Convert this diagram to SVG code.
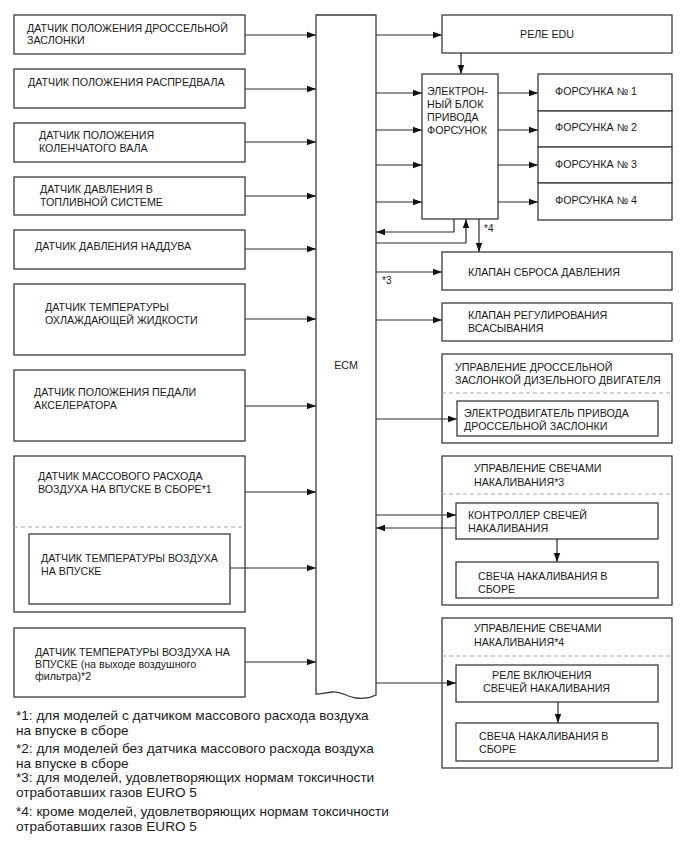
<svg xmlns="http://www.w3.org/2000/svg" width="690" height="855" viewBox="0 0 690 855">
<style>
.b{fill:#fff;stroke:#3a3a3a;stroke-width:1.3}
.o{fill:none;stroke:#3a3a3a;stroke-width:1.3}
.c{fill:none;stroke:#2a2a2a;stroke-width:1.2}
.a{marker-end:url(#ah)}
.d{fill:none;stroke:#aaa;stroke-width:1.2;stroke-dasharray:4 3}
text{font-family:"Liberation Sans",Arial,sans-serif;font-size:10.7px;fill:#1a1a1a}
.f{font-size:13.6px}
.s{font-size:10px}
</style>
<defs>
<marker id="ah" markerUnits="userSpaceOnUse" markerWidth="10" markerHeight="8" refX="9" refY="4" orient="auto">
<path d="M0,0.8 L9,4 L0,7.2 z" fill="#111"/>
</marker>
</defs>
<rect width="690" height="855" fill="#fff"/>

<g id="ecm">
<path class="b" d="M316,15 H376 V695 C368,699 362,699 356,698 C348,697 340,691 332,692 C324,693 320,694 316,694 Z"/>
<text x="346" y="369" text-anchor="middle">ECM</text>
</g>

<g id="s1"><rect class="b" x="14" y="15" width="231" height="39"/>
<text x="27" y="31.5">ДАТЧИК ПОЛОЖЕНИЯ ДРОССЕЛЬНОЙ</text><text x="27" y="44">ЗАСЛОНКИ</text></g>
<g id="s2"><rect class="b" x="14" y="69" width="231" height="39"/>
<text x="28" y="86">ДАТЧИК ПОЛОЖЕНИЯ РАСПРЕДВАЛА</text></g>
<g id="s3"><rect class="b" x="14" y="123" width="231" height="39"/>
<text x="39" y="139">ДАТЧИК ПОЛОЖЕНИЯ</text><text x="39" y="151.5">КОЛЕНЧАТОГО ВАЛА</text></g>
<g id="s4"><rect class="b" x="14" y="177" width="231" height="38"/>
<text x="40" y="193">ДАТЧИК ДАВЛЕНИЯ В</text><text x="40" y="205.5">ТОПЛИВНОЙ СИСТЕМЕ</text></g>
<g id="s5"><rect class="b" x="14" y="230" width="231" height="39"/>
<text x="35" y="250">ДАТЧИК ДАВЛЕНИЯ НАДДУВА</text></g>
<g id="s6"><rect class="b" x="14" y="284" width="231" height="71"/>
<text x="45" y="311">ДАТЧИК ТЕМПЕРАТУРЫ</text><text x="45" y="323.5">ОХЛАЖДАЮЩЕЙ ЖИДКОСТИ</text></g>
<g id="s7"><rect class="b" x="14" y="370" width="231" height="71"/>
<text x="34" y="396">ДАТЧИК ПОЛОЖЕНИЯ ПЕДАЛИ</text><text x="34" y="408.5">АКСЕЛЕРАТОРА</text></g>
<g id="s8"><rect class="b" x="14" y="456" width="231" height="156"/>
<text x="38" y="480">ДАТЧИК МАССОВОГО РАСХОДА</text><text x="38" y="493">ВОЗДУХА НА ВПУСКЕ В СБОРЕ*1</text>
<line class="d" x1="14" y1="527" x2="245" y2="527"/>
<g id="s8i"><rect class="b" x="29" y="534" width="201" height="70"/>
<text x="41" y="562">ДАТЧИК ТЕМПЕРАТУРЫ ВОЗДУХА</text><text x="41" y="574.5">НА ВПУСКЕ</text></g></g>
<g id="s9"><rect class="b" x="14" y="628" width="231" height="69"/>
<text x="35" y="656">ДАТЧИК ТЕМПЕРАТУРЫ ВОЗДУХА НА</text><text x="35" y="668">ВПУСКЕ (на выходе воздушного</text><text x="35" y="680">фильтра)*2</text></g>

<g id="edurelay"><rect class="b" x="442" y="15" width="230" height="38"/>
<text x="547" y="38" text-anchor="middle">РЕЛЕ EDU</text></g>
<g id="edu"><rect class="b" x="422" y="74" width="76" height="145"/>
<text x="427" y="95">ЭЛЕКТРОН-</text><text x="427" y="108">НЫЙ БЛОК</text><text x="427" y="121">ПРИВОДА</text><text x="427" y="133.5">ФОРСУНОК</text></g>
<g id="inj1"><rect class="b" x="538" y="74" width="134" height="37"/><text x="555" y="95">ФОРСУНКА № 1</text></g>
<g id="inj2"><rect class="b" x="538" y="111" width="134" height="36"/><text x="555" y="131">ФОРСУНКА № 2</text></g>
<g id="inj3"><rect class="b" x="538" y="147" width="134" height="36"/><text x="555" y="168">ФОРСУНКА № 3</text></g>
<g id="inj4"><rect class="b" x="538" y="183" width="134" height="37"/><text x="555" y="204">ФОРСУНКА № 4</text></g>
<g id="relief"><rect class="b" x="442" y="252" width="230" height="38"/>
<text x="468" y="276">КЛАПАН СБРОСА ДАВЛЕНИЯ</text></g>
<g id="scv"><rect class="b" x="442" y="303" width="230" height="38"/>
<text x="468" y="319">КЛАПАН РЕГУЛИРОВАНИЯ</text><text x="468" y="331.5">ВСАСЫВАНИЯ</text></g>
<g id="throttle"><rect class="b" x="442" y="354" width="230" height="89"/>
<text x="455" y="371">УПРАВЛЕНИЕ ДРОССЕЛЬНОЙ</text><text x="455" y="383.5">ЗАСЛОНКОЙ ДИЗЕЛЬНОГО ДВИГАТЕЛЯ</text>
<line class="d" x1="442" y1="393" x2="672" y2="393"/>
<g id="motor"><rect class="b" x="457" y="401" width="201" height="35"/>
<text x="464" y="417">ЭЛЕКТРОДВИГАТЕЛЬ ПРИВОДА</text><text x="464" y="429.5">ДРОССЕЛЬНОЙ ЗАСЛОНКИ</text></g></g>
<g id="glow3"><rect class="b" x="442" y="456" width="230" height="149"/>
<text x="474" y="472">УПРАВЛЕНИЕ СВЕЧАМИ</text><text x="474" y="485.5">НАКАЛИВАНИЯ*3</text>
<line class="d" x1="442" y1="494" x2="672" y2="494"/>
<g id="gcu"><rect class="b" x="456" y="503" width="202" height="36"/>
<text x="468" y="519">КОНТРОЛЛЕР СВЕЧЕЙ</text><text x="468" y="532">НАКАЛИВАНИЯ</text></g>
<g id="plug3"><rect class="b" x="456" y="562" width="202" height="36"/>
<text x="478" y="580">СВЕЧА НАКАЛИВАНИЯ В</text><text x="478" y="592.5">СБОРЕ</text></g></g>
<g id="glow4"><rect class="b" x="442" y="618" width="230" height="150"/>
<text x="474" y="632">УПРАВЛЕНИЕ СВЕЧАМИ</text><text x="474" y="645.5">НАКАЛИВАНИЯ*4</text>
<line class="d" x1="442" y1="656" x2="672" y2="656"/>
<g id="grelay"><rect class="b" x="456" y="665" width="202" height="37"/>
<text x="492" y="679">РЕЛЕ ВКЛЮЧЕНИЯ</text><text x="483" y="692">СВЕЧЕЙ НАКАЛИВАНИЯ</text></g>
<g id="plug4"><rect class="b" x="456" y="723" width="202" height="38"/>
<text x="479" y="740">СВЕЧА НАКАЛИВАНИЯ В</text><text x="479" y="753">СБОРЕ</text></g></g>

<g id="connectors">
<line class="c a" x1="245" y1="35" x2="316" y2="35"/>
<line class="c a" x1="245" y1="89" x2="316" y2="89"/>
<line class="c a" x1="245" y1="142" x2="316" y2="142"/>
<line class="c a" x1="245" y1="196" x2="316" y2="196"/>
<line class="c a" x1="245" y1="249" x2="316" y2="249"/>
<line class="c a" x1="245" y1="319" x2="316" y2="319"/>
<line class="c a" x1="245" y1="406" x2="316" y2="406"/>
<line class="c a" x1="245" y1="492" x2="316" y2="492"/>
<line class="c a" x1="230" y1="568" x2="316" y2="568"/>
<line class="c a" x1="245" y1="662" x2="316" y2="662"/>
<line class="c a" x1="376" y1="35" x2="442" y2="35"/>
<line class="c a" x1="461" y1="53" x2="461" y2="74"/>
<line class="c a" x1="376" y1="93" x2="422" y2="93"/>
<line class="c a" x1="376" y1="130" x2="422" y2="130"/>
<line class="c a" x1="376" y1="165" x2="422" y2="165"/>
<line class="c a" x1="376" y1="202" x2="422" y2="202"/>
<line class="c a" x1="498" y1="93" x2="538" y2="93"/>
<line class="c a" x1="498" y1="130" x2="538" y2="130"/>
<line class="c a" x1="498" y1="165" x2="538" y2="165"/>
<line class="c a" x1="498" y1="202" x2="538" y2="202"/>
<polyline class="c a" points="454,219 454,232 376,232"/>
<polyline class="c a" points="376,243 466,243 466,219"/>
<line class="c a" x1="479" y1="219" x2="479" y2="252"/>
<text class="s" x="484" y="232">*4</text>
<line class="c a" x1="376" y1="272" x2="442" y2="272"/>
<text class="s" x="382" y="284">*3</text>
<line class="c a" x1="376" y1="320" x2="442" y2="320"/>
<line class="c a" x1="376" y1="419" x2="457" y2="419"/>
<line class="c a" x1="376" y1="515" x2="456" y2="515"/>
<line class="c a" x1="456" y1="528" x2="376" y2="528"/>
<line class="c a" x1="557" y1="539" x2="557" y2="562"/>
<line class="c a" x1="376" y1="683" x2="456" y2="683"/>
<line class="c a" x1="558" y1="702" x2="558" y2="723"/>
</g>

<g id="notes">
<text class="f" x="16" y="720">*1: для моделей с датчиком массового расхода воздуха</text>
<text class="f" x="16" y="735">на впуске в сборе</text>
<text class="f" x="16" y="753">*2: для моделей без датчика массового расхода воздуха</text>
<text class="f" x="16" y="768">на впуске в сборе</text>
<text class="f" x="16" y="782">*3: для моделей, удовлетворяющих нормам токсичности</text>
<text class="f" x="16" y="797">отработавших газов EURO 5</text>
<text class="f" x="16" y="816">*4: кроме моделей, удовлетворяющих нормам токсичности</text>
<text class="f" x="16" y="831">отработавших газов EURO 5</text>
</g>
</svg>
